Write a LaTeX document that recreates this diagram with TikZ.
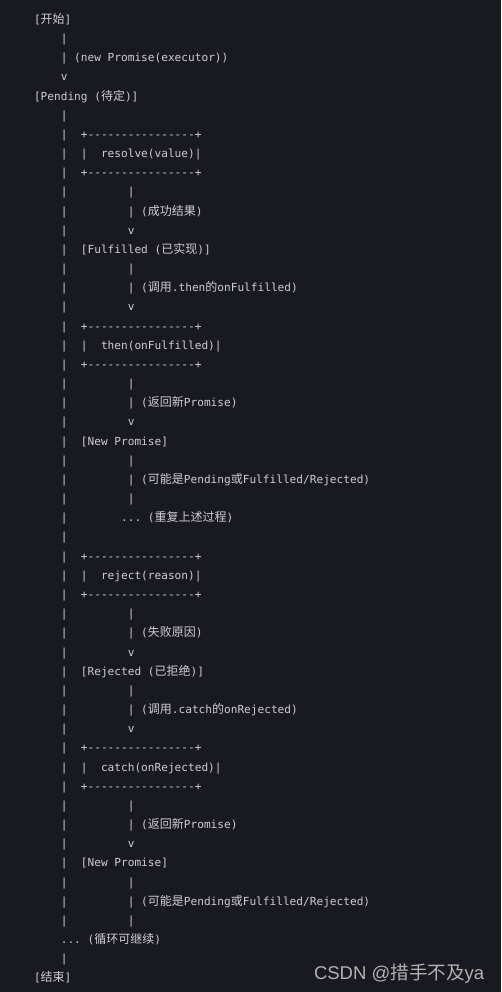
\documentclass[tikz,border=0pt]{standalone}
\usepackage{fontspec}
\setmonofont{DejaVu Sans Mono}
\newfontfamily\cjkfont{Noto Sans CJK SC}
\newfontfamily\wmfont{Liberation Sans}
\newcommand\zhtxt[1]{{\cjkfont\fontsize{9pt}{9pt}\selectfont #1}}
\newcommand\boxline{+----------------+}
\newcommand\Ln[3]{\node[txt] (r#1c#2) at ({34+#2*6.7},{23.4+(#1-1)*19.17}) {#3};}
\definecolor{bg}{RGB}{25,25,33}
\definecolor{fg}{RGB}{205,205,210}
\definecolor{wmc}{RGB}{178,178,178}
\begin{document}
\begin{tikzpicture}[x=0.75pt,y=-0.75pt,
  txt/.style={anchor=base west,inner sep=0pt,outer sep=0pt,text=fg,font=\ttfamily\fontsize{8.35pt}{10pt}\selectfont},
  wmstyle/.style={anchor=base west,inner sep=0pt,outer sep=0pt,text=wmc,font=\wmfont\fontsize{13.9pt}{14pt}\selectfont}]
\fill[bg] (0,0) rectangle (501,992);
\useasboundingbox (0,0) rectangle (501,992);
\Ln{1}{0}{[\zhtxt{开始}]}
\Ln{2}{4}{|}
\Ln{3}{4}{| (new Promise(executor))}
\Ln{4}{4}{v}
\Ln{5}{0}{[Pending (\zhtxt{待定})]}
\foreach \r in {6,...,48,50} {\Ln{\r}{4}{|}}
% resolve branch
\Ln{7}{7}{\boxline}
\Ln{8}{7}{|}
\Ln{8}{10}{resolve(value)|}
\Ln{9}{7}{\boxline}
\Ln{10}{14}{|}
\Ln{11}{14}{| (\zhtxt{成功结果})}
\Ln{12}{14}{v}
\Ln{13}{7}{[Fulfilled (\zhtxt{已实现})]}
\Ln{14}{14}{|}
\Ln{15}{14}{| (\zhtxt{调用}.then\zhtxt{的}onFulfilled)}
\Ln{16}{14}{v}
\Ln{17}{7}{\boxline}
\Ln{18}{7}{|}
\Ln{18}{10}{then(onFulfilled)|}
\Ln{19}{7}{\boxline}
\Ln{20}{14}{|}
\Ln{21}{14}{| (\zhtxt{返回新}Promise)}
\Ln{22}{14}{v}
\Ln{23}{7}{[New Promise]}
\Ln{24}{14}{|}
\Ln{25}{14}{| (\zhtxt{可能是}Pending\zhtxt{或}Fulfilled/Rejected)}
\Ln{26}{14}{|}
\Ln{27}{13}{... (\zhtxt{重复上述过程})}
% reject branch
\Ln{29}{7}{\boxline}
\Ln{30}{7}{|}
\Ln{30}{10}{reject(reason)|}
\Ln{31}{7}{\boxline}
\Ln{32}{14}{|}
\Ln{33}{14}{| (\zhtxt{失败原因})}
\Ln{34}{14}{v}
\Ln{35}{7}{[Rejected (\zhtxt{已拒绝})]}
\Ln{36}{14}{|}
\Ln{37}{14}{| (\zhtxt{调用}.catch\zhtxt{的}onRejected)}
\Ln{38}{14}{v}
\Ln{39}{7}{\boxline}
\Ln{40}{7}{|}
\Ln{40}{10}{catch(onRejected)|}
\Ln{41}{7}{\boxline}
\Ln{42}{14}{|}
\Ln{43}{14}{| (\zhtxt{返回新}Promise)}
\Ln{44}{14}{v}
\Ln{45}{7}{[New Promise]}
\Ln{46}{14}{|}
\Ln{47}{14}{| (\zhtxt{可能是}Pending\zhtxt{或}Fulfilled/Rejected)}
\Ln{48}{14}{|}
\Ln{49}{4}{... (\zhtxt{循环可继续})}
\Ln{51}{0}{[\zhtxt{结束}]}
\node[wmstyle] (wm) at (314,979) {CSDN @{\cjkfont 措手不及}ya};
\end{tikzpicture}
\end{document}
